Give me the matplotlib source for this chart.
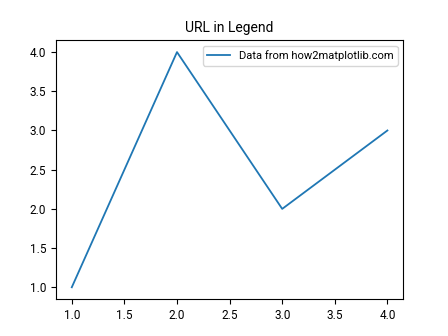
import matplotlib
matplotlib.use("Agg")
from matplotlib import pyplot as plt

plt.rcParams['font.family'] = ['Roboto', 'DejaVu Sans']
plt.rcParams['font.size'] = 8.5

x = [1, 2, 3, 4]
y = [1, 4, 2, 3]
label = 'Data from how2matplotlib.com'
title = 'URL in Legend'

fig = plt.figure(figsize=(4.48, 3.36), dpi=100)
ax = fig.subplots()
ax.plot(x, y, label=label, linewidth=1.3)
ax.set_title(title, fontsize=10)
ax.legend(loc='upper right', fontsize=8)
fig.savefig('out.png', dpi=100)
